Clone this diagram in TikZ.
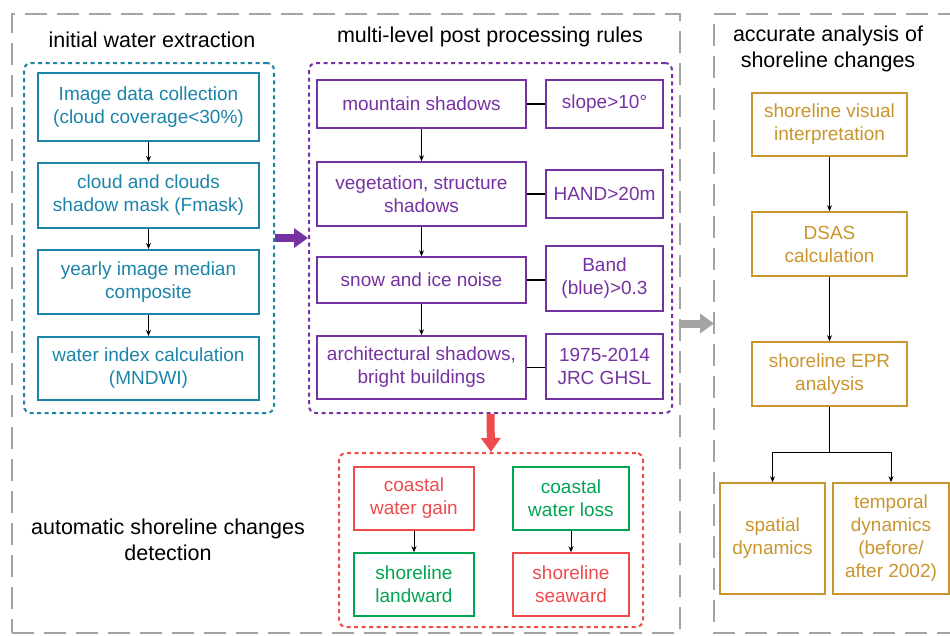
\documentclass[tikz,border=0pt]{standalone}
\usepackage{fontspec}
\setmainfont{Liberation Sans}
\usepackage{tikz}
\usetikzlibrary{arrows.meta,calc}
\definecolor{waterblue}{HTML}{1C84A9}
\definecolor{rulepurple}{HTML}{7632A0}
\definecolor{shoregold}{HTML}{C9952D}
\definecolor{gainred}{HTML}{EF4A4C}
\definecolor{lossgreen}{HTML}{00A452}
\definecolor{framegray}{HTML}{A3A3A3}

\tikzset{
  box/.style={draw,line width=1.6pt,align=center,inner sep=2pt,font=\fontsize{19}{23}\selectfont},
  bluebox/.style={box,draw=waterblue,text=waterblue,line width=2.2pt,minimum width=221pt},
  purplebox/.style={box,draw=rulepurple,text=rulepurple,minimum width=209pt},
  limitbox/.style={box,draw=rulepurple,text=rulepurple,minimum width=117pt},
  goldbox/.style={box,draw=shoregold,text=shoregold,minimum width=155pt,minimum height=63pt},
  redbox/.style={box,draw=gainred,text=gainred,minimum width=120pt,minimum height=63pt},
  greenbox/.style={box,draw=lossgreen,text=lossgreen,minimum width=120pt,minimum height=63pt},
  group/.style={draw,line width=2pt,dash pattern=on 4pt off 3.5pt,rounded corners=7pt},
  frame/.style={draw=framegray,line width=2pt,dash pattern=on 22pt off 10pt},
  heading/.style={align=center,font=\fontsize{21.5}{26}\selectfont},
  flow/.style={line width=0.9pt,-{Stealth[length=6pt,width=5pt]}},
  ruleline/.style={line width=1.6pt},
  bigarrow/.style={line width=8pt,-{Triangle[length=14pt,width=19pt]}}
}

\begin{document}
\begin{tikzpicture}[x=1pt,y=-1pt]
  \useasboundingbox (0,0) rectangle (950,635);

  \node[frame,minimum width=668pt,minimum height=619pt] (leftframe) at (346,323.5) {};
  \draw[frame] (960,14) -- (714,14) -- (714,633) -- (960,633);
  \coordinate (rightframe) at (714,323.5);

  \node[heading] (wtitle) at (152,40) {initial water extraction};
  \node[heading] (ptitle) at (490,37) {multi-level post processing rules};
  \node[heading] (atitle) at (828,49) {accurate analysis of\\shoreline changes};
  \node[heading] (dtitle) at (168,540) {automatic shoreline changes\\detection};

  \node[group,draw=waterblue,minimum width=250pt,minimum height=350pt] (bluegroup) at (149,238) {};
  \node[bluebox,minimum height=68pt] (b1) at (148.5,107) {Image data collection\\(cloud coverage<30\%)};
  \node[bluebox,minimum height=65pt] (b2) at (148.5,195.5) {cloud and clouds\\shadow mask (Fmask)};
  \node[bluebox,minimum height=64pt] (b3) at (148.5,282) {yearly image median\\composite};
  \node[bluebox,minimum height=63pt] (b4) at (148.5,368.5) {water index calculation\\(MNDWI)};
  \draw[flow] (b1) -- (b2);
  \draw[flow] (b2) -- (b3);
  \draw[flow] (b3) -- (b4);

  \node[group,draw=rulepurple,minimum width=363pt,minimum height=350pt] (purplegroup) at (490.5,238) {};
  \node[purplebox,minimum height=48pt] (p1) at (421.5,104) {mountain shadows};
  \node[purplebox,minimum height=64pt] (p2) at (421.5,194) {vegetation, structure\\shadows};
  \node[purplebox,minimum height=46pt] (p3) at (421.5,280) {snow and ice noise};
  \node[purplebox,minimum height=63pt] (p4) at (421.5,367.5) {architectural shadows,\\bright buildings};
  \node[limitbox,minimum height=48pt] (r1) at (604.5,104) {slope>10°};
  \node[limitbox,minimum height=48pt] (r2) at (604.5,194) {HAND>20m};
  \node[limitbox,minimum height=65pt] (r3) at (604.5,278.5) {Band\\(blue)>0.3};
  \node[limitbox,minimum height=65pt] (r4) at (604.5,366.5) {1975-2014\\JRC GHSL};
  \draw[flow] (p1) -- (p2);
  \draw[flow] (p2) -- (p3);
  \draw[flow] (p3) -- (p4);
  \draw[ruleline] (p1.east) -- (p1.east -| r1.west);
  \draw[ruleline] (p2.east) -- (p2.east -| r2.west);
  \draw[ruleline] (p3.east) -- (p3.east -| r3.west);
  \draw[ruleline] (p4.east) -- (p4.east -| r4.west);

  \node[group,draw=gainred,minimum width=304pt,minimum height=174pt] (redgroup) at (491,540) {};
  \node[redbox] (gain) at (414,498.5) {coastal\\water gain};
  \node[greenbox,minimum width=116pt] (loss) at (571,498.5) {coastal\\water loss};
  \node[greenbox] (landward) at (414,584.5) {shoreline\\landward};
  \node[redbox,minimum width=116pt] (seaward) at (571,584.5) {shoreline\\seaward};
  \draw[flow] (gain) -- (landward);
  \draw[flow] (loss) -- (seaward);

  \node[goldbox] (visual) at (829.5,124.5) {shoreline visual\\interpretation};
  \node[goldbox,minimum height=64pt] (dsas) at (829.5,244) {DSAS\\calculation};
  \node[goldbox,minimum height=64pt] (epr) at (829.5,374) {shoreline EPR\\analysis};
  \node[goldbox,minimum width=105pt,minimum height=111pt] (spatial) at (772.5,538.5) {spatial\\dynamics};
  \node[goldbox,minimum width=116pt,minimum height=111pt] (temporal) at (891,538.5) {temporal\\dynamics\\(before/\\after 2002)};
  \coordinate (split) at (829.5,452);
  \draw[flow] (visual) -- (dsas);
  \draw[flow] (dsas) -- (epr);
  \draw[line width=0.9pt] (epr) -- (split);
  \draw[flow] (split) -| (spatial.north);
  \draw[flow] (split) -| (temporal.north);

  \draw[bigarrow,rulepurple] (bluegroup.east) -- (purplegroup.west);
  \draw[bigarrow,gainred] (purplegroup.south) -- (redgroup.north);
  \draw[bigarrow,framegray] (leftframe.east) -- (rightframe);
\end{tikzpicture}
\end{document}
